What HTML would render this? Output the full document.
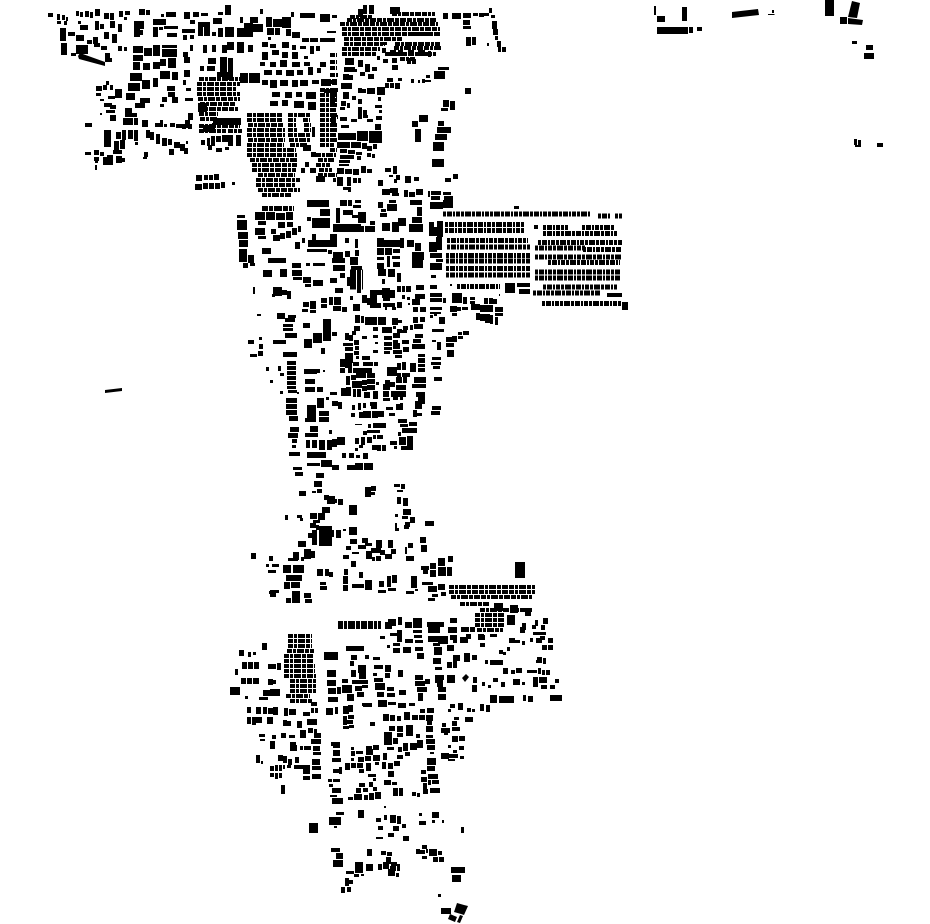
<!DOCTYPE html>
<html><head><meta charset="utf-8"><style>
html,body{margin:0;padding:0;background:#fff;width:930px;height:924px;overflow:hidden}
svg{display:block}
.e{fill:none;stroke:#000;stroke-width:5;stroke-dasharray:3 1 5 1 2 1 4 1 3 1 6 1}
.f{fill:none;stroke:#000;stroke-width:4;stroke-dasharray:5 1 3 1 7 1 4 1 6 1}
.g{fill:none;stroke:#000;stroke-width:5;stroke-dasharray:6 1 4 1 8 1 5 1 3 1}
</style></head><body>
<svg width="930" height="924" viewBox="0 0 930 924" xmlns="http://www.w3.org/2000/svg">
<!-- east rows -->
<path class="e" d="M443 214H590M598 216H610M615 216H622M445 224.500H524M445 230.500H524M543 227.500H568M582 227.500H615M543 233.500H617M447 240.500H528M447 247H530M538 242.500H622M535 248H585M583 249.500H621M446 255.500H530M446 261H530M535 257H622M548 262.500H620M446 268.500H530M446 275H530M535 272H620M535 278H620M457 286.500H500M543 287H617M533 293H600M542 303.500H622"/>
<path d="M505 283h10v10h-10zM517 283h13v4h-13zM519 289h11v5h-11zM607 293h15v4h-15zM622 302h6v8h-6zM514 206h5v3h-5zM534 225h4v4h-4zM450 284h2v2h-2zM499 294h1v2h-1z"/>
<!-- dense northern blocks -->
<path class="f" d="M247 115H283M247 120H283M248 125H283M247 130H285M247 135H285M248 140H285M247 145H284M247 150H296M247 155H297M250 160H297M252 165H297M252 170H296M258 175H295M256 180H300M256 185H296M258 190H300M262 195H292M288 115H310M288 120H296M303 120H310M288 125H296M304 125H311M288 130H297M304 130H311M288 135H310M289 140H310M290 145H308M320 90H337M320 95H337M320 100H337M320 105H337M320 110H335M320 115H337M320 120H336M320 125H337M320 130H337M320 135H336M320 140H337M320 145H334M330 150H337M316 155H336M318 160H334M316 165H330M319 170H332M318 175H337"/>
<path class="f" d="M199 79H240M197 84H240M197 89H236M197 94H240M198 99H240M200 104H235M199 109H238M199 114H218M200 119H218M199 126H240M199 131H226M228 131H242"/>
<path class="f" d="M340 24H438M342 29H440M342 34H430M344 39H402M344 44H385M342 49H380M342 54H376M411 34H440M395 44H440M394 48H441M385 54H436M400 59H415M350 17H372M392 14H435M347 20H436"/>
<path class="f" d="M330 55H337M330 62H337M330 68H337M330 75H338M330 82H337M331 90H338M330 96H337M330 103H336M331 110H337M331 117H338M331 124H337"/>
<path class="f" d="M449 587H535M449 592H535M451 597H532M460 604H490M480 610H532M475 615H505M475 620H505M475 625H505M477 630H503M338 623H381M338 627H381"/>
<path class="f" d="M288 636H312M288 641H312M288 646H312M287 651H314M284 656H314M284 661H314M284 666H315M284 671H315M284 676H316M290 681H316M290 686H316M290 691H316M286 696H310M290 701H312"/>
<path class="g" d="M262 208.500H294M350 272H363M350 277H363M350 282H363M350 287H363"/>
<!-- NW -->
<path d="M48 13h5v4h-5zM57 14h3v6h-3zM62 15h3v5h-3zM66 17h2v4h-2zM57 21h4v3h-4zM64 21h3v4h-3zM76 11h3v5h-3zM80 12h3v5h-3zM85 11h4v6h-4zM90 12h3v6h-3zM95 9h5v7h-5zM104 13h5v6h-5zM110 13h4v7h-4zM119 11h4v6h-4zM125 11h5v4h-5zM124 17h3v3h-3zM60 28h6v13h-6zM68 32h7v4h-7zM61 43h6v12h-6zM71 53h5v3h-5zM76 45h12v9h-12zM80 25h8v5h-8zM78 21h3v3h-3zM95 21h4v9h-4zM100 24h4v5h-4zM110 21h5v7h-5zM118 24h4v8h-4zM76 35h8v6h-8zM87 40h5v4h-5zM93 37h5v7h-5zM104 32h5v7h-5zM112 34h5v9h-5zM94 43h6v4h-6zM101 46h6v4h-6zM118 46h4v5h-4zM124 47h3v4h-3zM107 58h5v4h-5z"/>
<path d="M78 56l2-3 25 9v4l-26-7zM105 53h5v9h-5z"/>
<path d="M106 81h3v4h-3zM96 86h6v5h-6zM96 93h5v3h-5zM103 85h4v5h-4zM110 85h3v5h-3zM115 89h7v9h-7zM108 96h7v3h-7zM104 103h8v4h-8zM100 99h4v2h-4zM110 105h6v4h-6zM106 110h9v3h-9zM110 115h6v6h-6zM100 113h2v2h-2zM85 123h7v4h-7zM104 130h7v17h-7zM116 132h5v7h-5zM122 130h4v10h-4zM128 130h5v9h-5zM134 130h4v11h-4zM114 141h5v9h-5zM120 140h5v9h-5zM113 150h9v4h-9zM135 142h3v3h-3zM107 155h6v5h-6zM94 150h5v5h-5zM85 152h6v3h-6zM103 157h10v8h-10zM116 156h6v7h-6zM122 158h3v4h-3zM94 157h5v4h-5zM100 152h4v4h-4zM95 160h3v3h-3zM95 165h2v5h-2zM146 130h4v8h-4zM150 132h4v8h-4zM156 134h4v10h-4zM162 138h5v8h-5zM168 139h4v6h-4zM174 142h6v6h-6zM180 144h5v7h-5zM184 148h4v6h-4zM186 141h2v3h-2zM169 149h5v6h-5zM144 152h4v5h-4zM143 157h4v2h-4zM155 123h8v4h-8zM164 124h3v3h-3zM170 123h5v4h-5zM176 124h6v4h-6zM182 124h4v5h-4zM188 124h4v5h-4zM212 123h4v5h-4zM201 140h4v5h-4zM207 138h3v8h-3zM211 136h4v10h-4zM216 136h5v6h-5zM222 135h6v7h-6zM228 135h5v11h-5zM236 135h5v11h-5zM208 145h4v5h-4zM216 148h6v4h-6zM225 147h4v3h-4zM196 175h6v6h-6zM204 175h4v5h-4zM209 175h4v5h-4zM214 174h5v6h-5zM195 184h7v6h-7zM203 183h5v6h-5zM209 183h5v6h-5zM215 183h5v6h-5zM221 182h4v6h-4zM232 182h3v3h-3z"/>
<path d="M139 9h6v6h-6zM146 10h4v5h-4zM161 14h3v3h-3zM166 12h10v5h-10zM184 12h6v7h-6zM193 12h6v5h-6zM201 13h7v3h-7zM218 12h5v3h-5zM225 5h6v10h-6zM240 17h3v6h-3zM250 17h8v6h-8zM260 9h3v5h-3zM266 17h6v10h-6zM273 19h9v8h-9zM282 17h9v11h-9zM291 12h3v5h-3zM300 13h15v5h-15zM320 14h10v5h-10zM332 15h5v3h-5zM320 19h10v3h-10zM134 21h10v8h-10zM134 29h6v8h-6zM140 30h3v5h-3zM153 19h13v6h-13zM153 27h5v10h-5zM159 27h4v3h-4zM164 26h14v3h-14zM167 33h10v4h-10zM182 29h13v4h-13zM190 20h5v4h-5zM198 22h12v5h-12zM198 27h5v9h-5zM204 27h6v9h-6zM212 32h4v4h-4zM213 18h9v6h-9zM218 28h5v9h-5zM225 27h9v10h-9zM237 28h7v9h-7zM244 23h9v14h-9zM253 24h6v8h-6zM259 24h4v8h-4zM267 28h7v7h-7zM275 28h5v7h-5zM286 29h5v7h-5zM292 32h8v6h-8zM268 37h3v3h-3zM327 31h9v2h-9zM302 38h7v4h-7zM310 38h8v4h-8zM320 38h15v4h-15zM183 35h4v5h-4zM190 35h4v4h-4z"/>
<path d="M133 46h10v7h-10zM133 55h10v6h-10zM130 73h12v8h-12zM144 48h8v8h-8zM153 45h7v11h-7zM162 45h15v3h-15zM162 49h15v8h-15zM168 58h8v10h-8zM153 62h7v7h-7zM143 63h7v7h-7zM160 59h6v7h-6zM133 62h7v8h-7zM160 71h10v8h-10zM172 72h6v8h-6zM142 80h8v9h-8zM153 78h5v9h-5zM128 83h12v8h-12zM126 93h9v7h-9zM167 86h8v5h-8zM168 92h7v5h-7zM162 97h5v5h-5zM172 97h6v6h-6zM143 98h7v5h-7zM135 103h6v5h-6zM140 98h5v10h-5zM125 108h7v5h-7zM125 113h12v4h-12zM123 118h10v7h-10zM134 118h4v7h-4zM142 120h6v7h-6zM183 52h5v5h-5zM190 45h3v6h-3zM184 57h6v6h-6zM184 70h6v7h-6zM185 98h8v3h-8zM188 113h5v7h-5zM185 120h5v8h-5zM203 45h4v8h-4zM212 45h4v7h-4zM222 45h5v8h-5zM227 42h7v8h-7zM237 42h7v11h-7zM248 45h5v7h-5zM208 58h8v6h-8zM207 66h8v5h-8zM200 66h4v5h-4zM220 57h7v15h-7zM228 58h5v14h-5zM217 72h7v5h-7zM224 72h9v8h-9zM240 73h8v10h-8zM249 73h11v10h-11zM198 103h9v9h-9zM213 118h28v7h-28zM203 125h7v7h-7zM210 125h5v8h-5zM183 80h3v5h-3zM186 88h5v3h-5zM160 104h4v3h-4zM160 120h3v5h-3z"/>
<path d="M262 42h6v5h-6zM270 44h6v4h-6zM282 42h7v6h-7zM292 45h4v5h-4zM300 46h6v3h-6zM310 46h4v8h-4zM316 46h4v5h-4zM262 52h6v8h-6zM272 50h7v5h-7zM282 52h6v6h-6zM292 52h6v7h-6zM304 56h4v3h-4zM260 62h5v4h-5zM270 62h6v5h-6zM280 60h7v7h-7zM292 62h8v5h-8zM304 62h6v4h-6zM320 62h6v5h-6zM264 70h8v5h-8zM276 70h6v5h-6zM286 70h8v6h-8zM297 70h6v5h-6zM308 67h5v8h-5zM317 68h4v5h-4zM262 80h6v5h-6zM270 80h7v8h-7zM280 80h8v6h-8zM292 80h6v7h-6zM300 80h8v6h-8zM312 80h7v4h-7zM272 92h8v5h-8zM285 92h7v6h-7zM296 92h6v5h-6zM306 92h10v7h-10zM270 101h8v5h-8zM282 100h6v6h-6zM294 101h10v7h-10zM308 102h8v8h-8zM312 127h3v10h-3zM321 79h10v7h-10zM332 79h5v6h-5zM324 89h13v4h-13zM301 168h4v5h-4zM310 168h6v5h-6zM316 176h9v6h-9zM333 178h3v4h-3zM303 145h8v6h-8zM311 152h5v5h-5zM305 162h4v5h-4z"/>
<!-- N center -->
<path d="M345 58h9v7h-9zM344 67h11v5h-11zM343 74h6v6h-6zM348 75h5v5h-5zM341 83h11v6h-11zM343 92h6v7h-6zM341 101h5v5h-5zM347 103h3v5h-3zM340 107h5v3h-5zM340 117h7v4h-7zM351 119h6v3h-6zM341 125h8v3h-8zM338 133h18v7h-18zM357 131h11v10h-11zM369 131h13v12h-13zM337 142h13v6h-13zM351 142h6v6h-6zM357 142h4v6h-4zM362 143h5v6h-5zM367 146h5v5h-5zM373 144h4v5h-4zM340 149h7v4h-7zM348 150h7v4h-7zM356 152h6v3h-6zM340 155h14v4h-14zM357 156h4v4h-4zM367 153h4v4h-4zM372 154h3v4h-3zM339 160h11v3h-11zM339 164h10v2h-10zM337 168h7v6h-7zM345 169h7v5h-7zM353 169h6v6h-6zM361 166h5v7h-5zM367 169h5v4h-5zM337 177h6v9h-6zM347 177h4v9h-4zM353 178h4v5h-4zM358 178h3v5h-3zM343 187h5v3h-5zM348 187h3v5h-3z"/>
<path d="M358 107h4v12h-4zM363 110h4v5h-4zM363 115h5v3h-5zM367 119h6v3h-6zM376 116h6v4h-6zM375 124h6v6h-6zM375 105h7v3h-7zM378 97h3v4h-3zM379 110h3v3h-3zM358 88h4v5h-4zM362 89h4v4h-4zM367 88h8v6h-8zM377 87h8v8h-8zM385 83h4v5h-4zM390 83h4v5h-4zM395 83h5v6h-5zM398 78h4v3h-4zM387 78h6v4h-6zM392 65h6v5h-6zM411 79h3v4h-3zM418 80h2v3h-2zM422 79h3v4h-3zM426 75h4v3h-4zM425 80h6v2h-6zM358 60h5v7h-5zM365 64h5v8h-5zM372 67h5v4h-5zM360 72h5v4h-5zM368 74h6v5h-6zM352 96h4v4h-4zM358 99h4v5h-4zM353 69h4v3h-4zM390 7h10v7h-10zM358 9h5v8h-5zM363 5h4v9h-4zM369 5h5v9h-5zM380 42h7v3h-7zM382 48h4v5h-4zM390 50h6v6h-6zM398 50h5v6h-5zM408 50h6v6h-6zM418 50h7v6h-7zM428 51h3v6h-3zM412 59h4v5h-4zM407 58h4v6h-4zM392 58h5v5h-5zM410 65h0v0zM377 56h3v4h-3zM383 59h5v4h-5z"/>
<path d="M443 13h5v6h-5zM452 13h9v6h-9zM463 13h8v5h-8zM463 20h7v5h-7zM463 26h8v3h-8zM473 13h5v3h-5zM479 13h5v4h-5zM484 13h5v3h-5zM489 8h3v5h-3zM491 15h4v3h-4zM492 21h5v8h-5zM493 29h5v6h-5zM495 36h3v4h-3zM497 41h4v6h-4zM498 47h3v5h-3zM502 47h4v5h-4zM487 43h2v3h-2zM466 37h5v9h-5zM472 37h4v8h-4zM443 100h6v7h-6zM450 101h5v9h-5zM441 108h7v3h-7zM465 88h6v6h-6zM419 115h9v7h-9zM412 121h6v6h-6zM438 121h6v5h-6zM437 127h14v6h-14zM435 134h12v6h-12zM433 142h11v9h-11zM415 129h6v13h-6zM432 159h12v8h-12zM438 67h11v3h-11zM434 71h11v8h-11zM393 166h4v8h-4zM389 175h4v2h-4zM394 179h3v4h-3zM445 178h6v4h-6zM453 174h5v5h-5zM382 189h8v6h-8zM390 188h8v5h-8zM392 193h7v3h-7zM404 190h4v7h-4zM409 192h6v5h-6zM416 189h7v6h-7zM428 191h2v6h-2zM431 191h10v4h-10zM443 192h8v3h-8zM431 196h9v4h-9zM444 196h9v4h-9zM378 180h5v6h-5zM396 175h4v5h-4zM405 176h6v7h-6zM414 177h5v4h-5zM385 168h6v4h-6z"/>
<!-- middle -->
<path d="M237 215h8v3h-8zM237 220h10v10h-10zM238 232h10v7h-10zM239 240h9v7h-9zM239 249h8v13h-8zM248 255h6v8h-6zM243 263h5v5h-5zM250 263h5v3h-5zM255 212h10v8h-10zM266 212h9v8h-9zM276 213h9v7h-9zM286 212h7v8h-7zM258 221h8v4h-8zM278 222h7v6h-7zM287 222h6v5h-6zM255 228h10v7h-10zM258 236h8v3h-8zM271 229h5v5h-5zM273 235h7v6h-7zM280 233h5v6h-5zM286 231h5v7h-5zM292 228h5v7h-5zM298 226h3v6h-3zM262 248h9v6h-9zM295 242h5v7h-5zM302 238h3v5h-3zM307 217h4v4h-4zM312 218h18v10h-18zM320 209h10v7h-10zM307 200h22v7h-22zM333 224h28v8h-28zM336 208h4v7h-4zM343 210h10v5h-10zM352 215h6v3h-6zM358 212h8v6h-8zM358 218h8v5h-8zM340 200h7v6h-7zM348 200h4v6h-4zM353 205h8v3h-8zM355 200h6v3h-6zM336 215h4v8h-4zM370 221h5v4h-5zM365 226h10v6h-10zM360 226h4v6h-4zM382 223h8v8h-8zM392 222h7v10h-7zM398 218h8v8h-8zM409 224h14v8h-14zM412 217h10v6h-10zM417 207h5v9h-5zM410 200h12v5h-12zM430 202h13v7h-13zM443 200h10v8h-10zM378 202h5v6h-5zM387 204h10v7h-10zM389 200h7v3h-7zM380 213h7v4h-7zM381 209h5v3h-5z"/>
<path d="M429 222h5v5h-5zM429 227h8v9h-8zM437 221h6v16h-6zM429 242h8v10h-8zM436 237h6v13h-6zM436 253h6v5h-6zM430 253h7v5h-7zM436 259h7v3h-7zM430 263h7v7h-7zM437 263h5v7h-5zM431 275h5v3h-5zM377 238h7v9h-7zM384 240h9v7h-9zM393 240h7v7h-7zM400 238h4v10h-4zM407 240h7v7h-7zM415 243h6v8h-6zM377 248h7v7h-7zM385 248h7v7h-7zM393 249h7v4h-7zM377 257h7v3h-7zM387 256h3v11h-3zM392 256h8v3h-8zM412 252h12v8h-12zM412 260h11v8h-11zM393 262h7v5h-7zM377 263h7v6h-7zM378 269h8v7h-8zM388 269h7v8h-7zM397 273h4v9h-4zM382 279h3v5h-3zM355 239h3v9h-3zM345 238h4v5h-4zM355 250h4v6h-4zM333 252h10v6h-10zM345 251h5v6h-5zM332 258h13v5h-13zM350 257h8v8h-8zM351 266h11v4h-11zM333 265h12v6h-12zM347 277h3v9h-3zM340 273h5v5h-5zM330 278h7v5h-7zM308 240h29v7h-29zM312 234h4v6h-4zM330 234h7v6h-7zM307 249h20v3h-20zM328 250h4v4h-4zM306 263h4v3h-4zM313 263h12v3h-12zM292 263h9v5h-9zM292 270h10v6h-10zM293 277h9v3h-9zM303 277h8v6h-8zM305 284h6v3h-6zM313 280h5v6h-5zM318 280h5v6h-5zM268 258h18v5h-18zM263 270h9v7h-9zM280 269h7v8h-7zM253 287h2v7h-2zM273 287h9v9h-9zM282 290h5v5h-5zM287 291h4v8h-4zM272 294h3v3h-3zM335 288h8v5h-8zM357 288h4v5h-4zM350 296h3v4h-3z"/>
<path d="M370 290h12v5h-12zM382 288h8v10h-8zM390 290h5v8h-5zM397 286h4v6h-4zM402 286h3v6h-3zM406 286h5v6h-5zM416 285h8v5h-8zM415 294h10v5h-10zM430 285h7v4h-7zM430 293h7v4h-7zM437 293h5v4h-5zM430 298h7v4h-7zM437 298h5v4h-5zM443 298h3v5h-3zM452 293h5v10h-5zM457 293h5v10h-5zM463 297h4v7h-4zM470 297h5v3h-5zM470 301h5v3h-5zM484 298h4v6h-4zM489 298h4v6h-4zM493 299h4v5h-4zM450 306h7v6h-7zM457 307h4v4h-4zM462 307h6v3h-6zM471 304h9v6h-9zM480 305h13v7h-13zM495 307h8v5h-8zM495 313h8v3h-8zM476 313h4v7h-4zM480 314h5v7h-5zM485 314h5v9h-5zM490 315h3v9h-3zM495 317h3v8h-3zM452 313h5v3h-5zM362 295h5v8h-5zM367 298h3v7h-3zM370 295h7v13h-7zM377 303h4v5h-4zM383 298h7v3h-7zM383 303h12v4h-12zM385 307h2v3h-2zM392 307h4v3h-4zM397 302h5v6h-5zM402 295h3v4h-3zM407 297h3v3h-3zM408 303h2v2h-2zM412 299h8v6h-8zM413 307h5v5h-5zM420 307h6v5h-6zM430 307h12v3h-12zM430 312h11v2h-11zM430 315h3v3h-3zM434 313h3v3h-3zM439 317h6v7h-6zM303 302h6v5h-6zM310 301h6v8h-6zM321 298h6v5h-6zM321 304h6v4h-6zM329 297h4v8h-4zM334 297h7v8h-7zM333 306h8v5h-8zM342 307h5v5h-5zM353 304h7v7h-7zM302 309h6v3h-6zM310 310h6v3h-6zM257 314h4v2h-4zM277 313h8v6h-8zM288 315h8v3h-8zM285 318h10v4h-10zM283 324h10v3h-10zM283 328h10v3h-10zM285 333h12v5h-12zM303 323h7v5h-7zM323 319h8v22h-8zM313 333h9v10h-9zM304 339h8v9h-8zM332 332h5v4h-5zM321 348h4v6h-4zM273 340h13v4h-13zM283 352h14v5h-14zM248 340h6v4h-6zM259 337h3v3h-3zM259 344h4v5h-4zM250 354h7v3h-7zM258 351h5v5h-5zM266 367h3v4h-3zM278 366h3v5h-3zM280 373h4v3h-4zM270 380h3v3h-3zM280 391h3v3h-3zM297 392h2v2h-2z"/>
<path d="M287 361h9v4h-9zM287 366h9v4h-9zM287 371h9v4h-9zM287 376h9v4h-9zM287 381h9v4h-9zM287 386h9v3h-9zM288 390h9v3h-9zM286 398h11v5h-11zM286 404h11v5h-11zM286 410h11v5h-11zM289 416h9v5h-9zM304 369h13v5h-13zM317 369h3v4h-3zM323 370h2v2h-2zM305 379h10v5h-10zM305 387h10v5h-10zM317 387h6v5h-6zM330 392h7v3h-7zM317 398h7v10h-7zM326 397h3v3h-3zM332 401h6v5h-6zM338 402h4v7h-4zM307 405h9v7h-9zM307 412h9v6h-9zM305 418h11v4h-11zM319 411h10v5h-10zM319 417h10v5h-10zM290 427h9v5h-9zM310 426h8v6h-8zM305 433h13v4h-13zM288 433h10v5h-10zM329 430h3v4h-3zM292 439h5v4h-5zM292 445h4v3h-4zM306 440h4v8h-4zM312 440h5v8h-5zM319 440h6v10h-6zM327 440h5v10h-5zM332 439h5v8h-5zM337 437h8v8h-8zM289 452h11v4h-11zM307 452h19v6h-19zM321 460h11v7h-11zM307 463h13v3h-13zM293 467h9v3h-9zM332 465h7v5h-7zM347 465h8v5h-8zM355 463h8v7h-8zM364 463h9v7h-9zM342 453h4v5h-4zM349 453h5v5h-5zM356 455h4v3h-4zM363 453h5v6h-5zM355 448h3v3h-3zM355 438h4v6h-4zM363 431h4v4h-4zM361 437h4v8h-4zM367 437h5v6h-5zM373 435h3v4h-3zM377 435h6v4h-6zM359 445h4v3h-4zM372 445h5v5h-5zM377 445h4v6h-4zM382 445h4v6h-4zM390 441h7v4h-7zM394 446h3v3h-3zM399 437h7v8h-7zM407 436h6v14h-6zM401 446h6v4h-6zM402 428h15v5h-15zM398 432h3v4h-3zM398 419h9v4h-9zM409 422h8v4h-8zM400 424h8v3h-8zM373 423h13v5h-13zM368 424h3v4h-3zM355 424h7v1h-7zM367 430h13v3h-13z"/>
<path d="M355 315h5v8h-5zM361 316h3v7h-3zM365 317h4v8h-4zM369 317h4v8h-4zM373 317h4v8h-4zM378 317h4v8h-4zM382 317h4v8h-4zM392 318h6v7h-6zM398 320h4v3h-4zM413 317h5v6h-5zM420 317h5v5h-5zM354 326h6v5h-6zM352 331h4v4h-4zM345 333h4v7h-4zM349 335h4v6h-4zM373 327h5v4h-5zM382 327h10v6h-10zM393 326h3v3h-3zM397 329h5v4h-5zM403 326h5v4h-5zM410 325h3v5h-3zM414 324h9v5h-9zM393 333h7v5h-7zM402 330h5v3h-5zM362 336h5v3h-5zM373 335h5v3h-5zM384 336h8v4h-8zM415 334h8v4h-8zM413 339h8v4h-8zM343 343h10v3h-10zM345 347h8v4h-8zM345 353h8v4h-8zM354 340h5v5h-5zM355 346h4v4h-4zM354 351h5v4h-5zM375 342h3v2h-3zM384 342h8v4h-8zM384 347h8v3h-8zM384 351h6v3h-6zM393 343h7v6h-7zM393 340h5v3h-5zM402 340h7v4h-7zM412 344h13v5h-13zM393 350h9v4h-9zM403 347h6v5h-6zM373 350h5v3h-5zM395 355h7v3h-7zM345 357h8v6h-8zM356 356h3v3h-3zM362 356h8v4h-8zM418 354h7v3h-7zM340 359h5v8h-5zM345 363h7v5h-7zM353 362h6v4h-6zM363 362h10v4h-10zM374 362h4v4h-4zM340 368h5v5h-5zM348 368h4v5h-4zM353 368h9v5h-9zM362 368h10v5h-10zM387 367h10v5h-10zM397 363h4v7h-4zM402 362h4v8h-4zM410 363h6v9h-6zM418 358h7v5h-7zM418 364h7v3h-7zM418 368h7v4h-7z"/>
<path d="M387 372h10v4h-10zM397 373h4v4h-4zM402 373h8v4h-8zM346 376h4v9h-4zM351 375h5v5h-5zM356 373h10v5h-10zM367 373h8v5h-8zM352 381h5v7h-5zM357 381h5v7h-5zM362 380h5v5h-5zM367 379h8v5h-8zM376 382h3v3h-3zM385 380h5v5h-5zM390 382h5v5h-5zM396 377h6v6h-6zM403 377h4v6h-4zM414 377h12v6h-12zM414 384h12v4h-12zM362 386h5v5h-5zM367 385h8v5h-8zM412 384h3v4h-3zM341 388h5v8h-5zM346 387h5v9h-5zM353 389h3v8h-3zM357 389h4v8h-4zM364 392h6v6h-6zM373 391h5v8h-5zM383 384h7v6h-7zM383 391h6v6h-6zM391 391h5v6h-5zM396 385h10v5h-10zM396 391h10v6h-10zM393 397h5v3h-5zM400 397h3v3h-3zM383 398h7v3h-7zM416 392h9v5h-9zM418 397h7v7h-7zM415 401h7v8h-7zM413 410h4v7h-4zM352 405h3v5h-3zM358 403h3v7h-3zM363 403h3v5h-3zM370 402h7v4h-7zM371 406h6v3h-6zM386 407h7v3h-7zM396 404h4v6h-4zM400 403h3v7h-3zM351 413h4v4h-4zM359 412h4v6h-4zM363 411h4v7h-4zM367 411h4v7h-4zM372 411h6v7h-6zM378 411h6v6h-6zM389 413h6v3h-6zM413 413h9v3h-9zM432 406h9v4h-9zM431 411h9v4h-9zM432 340h4v2h-4zM437 342h4v8h-4zM432 329h12v3h-12zM446 337h11v5h-11zM446 343h8v4h-8zM447 350h7v4h-7zM447 354h7v3h-7zM452 336h5v6h-5zM458 332h4v3h-4zM458 336h5v3h-5zM463 331h6v4h-6zM432 357h9v3h-9zM431 362h10v3h-10zM433 366h7v3h-7zM434 377h8v4h-8z"/>
<!-- s-middle -->
<path d="M295 472h8v4h-8zM316 473h8v5h-8zM314 481h8v6h-8zM317 489h5v4h-5zM312 491h4v2h-4zM299 491h7v5h-7zM324 495h5v5h-5zM338 499h5v6h-5zM334 499h3v4h-3zM327 496h8v8h-8zM365 487h6v10h-6zM371 486h5v5h-5zM370 492h5v3h-5zM394 484h6v3h-6zM401 484h4v5h-4zM397 490h6v2h-6zM397 497h4v7h-4zM403 498h5v8h-5zM403 509h8v6h-8zM402 516h6v3h-6zM410 517h5v6h-5zM405 522h5v5h-5zM395 514h3v3h-3zM395 523h2v5h-2zM404 525h5v4h-5zM395 528h4v3h-4zM425 521h9v5h-9zM285 515h3v5h-3zM297 515h5v3h-5zM300 518h3v3h-3zM349 505h8v10h-8zM322 507h8v6h-8zM310 513h7v6h-7zM313 520h7v3h-7zM310 523h6v5h-6zM318 513h7v7h-7zM319 526h13v20h-13zM316 525h3v5h-3zM331 530h3v7h-3zM336 530h5v8h-5zM312 530h5v15h-5zM308 533h5v5h-5zM349 527h8v8h-8zM343 529h3v2h-3zM365 523h7v0zM374 528h0v0zM362 538h6v5h-6zM365 543h7v3h-7zM358 545h8v4h-8zM376 540h6v8h-6zM388 540h5v8h-5zM391 549h5v5h-5zM380 550h5v5h-5zM385 554h7v5h-7zM420 537h6v6h-6zM421 545h6v7h-6zM408 543h5v5h-5zM405 547h2v7h-2zM406 556h8v5h-8zM346 546h5v4h-5zM350 539h7v5h-7zM352 552h7v2h-7zM371 548h4v5h-4zM372 557h3v4h-3zM343 555h6v4h-6zM351 561h5v6h-5zM366 551h6v8h-6zM375 548h6v5h-6zM376 556h5v5h-5zM251 553h5v6h-5zM269 556h4v5h-4zM266 564h3v3h-3zM272 564h7v3h-7zM268 570h8v3h-8zM293 552h6v8h-6zM298 541h8v6h-8zM304 549h7v10h-7zM311 551h4v7h-4zM288 558h10v3h-10zM301 557h3v4h-3z"/>
<!-- s block from zoom -->
<path d="M283 565h8v8h-8zM293 565h11v8h-11zM286 575h8v6h-8zM294 575h8v6h-8zM284 582h6v7h-6zM291 582h9v6h-9zM270 590h6v7h-6zM269 591h3v3h-3zM292 591h8v8h-8zM286 598h5v5h-5zM292 598h8v5h-8zM304 593h7v5h-7zM305 599h7v4h-7zM276 590h3v3h-3zM317 569h6v7h-6zM325 569h4v7h-4zM329 572h4v5h-4zM320 582h6v3h-6zM320 586h7v4h-7zM344 569h4v6h-4zM343 576h5v8h-5zM343 585h5v6h-5zM359 572h4v6h-4zM352 584h12v4h-12zM365 580h7v10h-7zM379 581h5v6h-5zM387 576h4v11h-4zM392 575h5v8h-5zM388 588h8v3h-8zM378 590h8v3h-8zM406 591h8v3h-8zM411 576h6v12h-6zM415 589h3v2h-3zM422 582h11v3h-11zM430 563h6v6h-6zM421 566h8v4h-8zM423 570h5v4h-5zM430 570h6v7h-6zM438 558h7v8h-7zM438 567h8v9h-8zM447 567h5v9h-5zM448 556h5v6h-5zM515 562h10v16h-10zM428 586h9v6h-9zM438 584h7v6h-7zM432 594h6v3h-6zM428 598h7v3h-7zM441 592h5v4h-5zM494 603h9v8h-9zM510 605h8v8h-8zM525 608h6v8h-6zM507 615h8v10h-8zM522 623h4v7h-4zM535 620h3v6h-3zM543 618h5v6h-5zM532 625h4v4h-4zM541 625h4v5h-4zM520 627h5v6h-5zM533 632h13v3h-13zM540 636h5v4h-5zM548 638h5v5h-5zM548 645h5v5h-5zM536 638h6v5h-6zM530 638h3v4h-3zM542 645h5v5h-5zM509 638h6v5h-6zM522 641h3v4h-3zM499 650h4v4h-4zM503 652h3v3h-3zM507 647h3v4h-3zM485 660h3v4h-3zM490 660h13v5h-13zM503 668h5v6h-5zM511 670h4v4h-4zM516 668h6v5h-6zM527 670h10v3h-10zM538 668h3v6h-3zM542 670h3v5h-3zM546 670h4v5h-4zM537 657h5v3h-5zM536 660h6v3h-6zM543 658h3v6h-3zM490 695h7v8h-7zM499 696h15v7h-15zM523 695h3v6h-3zM528 696h5v6h-5zM550 695h12v6h-12zM473 677h4v6h-4zM472 685h5v7h-5zM482 682h3v4h-3zM488 685h3v3h-3zM493 678h5v4h-5zM501 682h4v5h-4zM513 679h7v6h-7zM522 682h3v3h-3zM533 677h5v10h-5zM539 677h8v6h-8zM550 685h5v4h-5zM555 679h4v4h-4zM541 685h6v4h-6zM447 675h8v8h-8zM435 675h8v8h-8zM515 640h5v3h-5zM478 634h6v6h-6zM490 634h7v3h-7zM466 634h5v5h-5z"/>
<path d="M462 678l4-4 3 3-4 5zM324 652h14v8h-14zM327 670h9v7h-9zM327 680h9v6h-9zM328 688h8v6h-8zM328 697h10v5h-10zM337 687h4v7h-4zM342 685h10v8h-10zM347 694h7v7h-7zM362 703h10v3h-10zM346 646h18v5h-18zM351 655h6v5h-6zM350 661h4v5h-4zM358 665h8v8h-8zM351 670h5v7h-5zM359 673h7v6h-7zM342 679h6v4h-6zM352 680h16v4h-16zM355 686h7v5h-7zM362 685h6v3h-6zM357 692h7v5h-7zM373 657h7v3h-7zM374 665h9v4h-9zM373 673h4v3h-4zM374 678h9v4h-9zM375 683h10v7h-10zM377 692h7v5h-7zM387 687h7v4h-7zM387 693h8v4h-8zM385 673h5v5h-5zM385 665h6v7h-6zM398 670h5v7h-5zM399 690h7v5h-7zM415 675h8v5h-8zM415 681h10v5h-10zM417 687h10v5h-10zM418 693h5v8h-5zM425 679h5v5h-5zM437 675h7v5h-7zM437 681h6v6h-6zM438 687h8v5h-8zM438 694h8v6h-8zM385 622h7v7h-7zM388 619h8v7h-8zM398 617h4v8h-4zM405 622h7v6h-7zM413 618h9v10h-9zM413 630h9v3h-9zM414 635h8v3h-8zM405 639h8v4h-8zM415 640h8v3h-8zM397 630h5v12h-5zM393 643h7v3h-7zM403 647h8v6h-8zM393 648h7v5h-7zM415 647h8v4h-8zM417 653h7v6h-7zM427 622h17v5h-17zM428 627h12v6h-12zM428 636h10v6h-10zM438 636h10v8h-10zM433 643h7v3h-7zM434 647h8v8h-8zM433 658h8v6h-8zM435 667h7v3h-7zM447 645h7v6h-7zM450 618h7v5h-7zM448 627h9v6h-9zM450 635h7v5h-7zM453 640h4v3h-4zM460 637h8v6h-8zM461 627h8v5h-8zM470 627h5v5h-5zM453 655h7v6h-7zM447 662h5v6h-5zM453 661h4v7h-4zM464 653h6v9h-6zM472 655h5v5h-5zM482 635h3v5h-3zM480 643h5v4h-5zM387 645h3v3h-3zM365 655h4v4h-4zM380 636h5v3h-5zM390 633h8v3h-8z"/>
<path d="M230 687h10v8h-10zM262 643h5v7h-5zM239 650h5v6h-5zM248 652h3v5h-3zM253 652h3v3h-3zM242 662h5v7h-5zM248 662h5v7h-5zM254 662h5v7h-5zM268 664h8v5h-8zM277 663h4v7h-4zM235 669h3v6h-3zM241 678h5v6h-5zM247 678h5v6h-5zM253 678h6v6h-6zM268 679h5v6h-5zM245 696h3v3h-3zM263 690h7v6h-7zM270 689h10v7h-10zM259 697h9v3h-9zM272 680h4v4h-4z"/>
<path d="M247 707h4v6h-4zM256 707h5v7h-5zM263 707h4v7h-4zM268 708h5v6h-5zM273 707h5v8h-5zM284 708h4v8h-4zM289 709h7v6h-7zM303 712h7v4h-7zM311 702h3v4h-3zM314 702h3v4h-3zM311 708h3v5h-3zM315 708h3v5h-3zM326 708h7v7h-7zM335 707h3v7h-3zM343 706h6v8h-6zM348 705h5v7h-5zM363 703h9v4h-9zM378 700h9v7h-9zM388 702h8v3h-8zM398 703h8v5h-8zM409 703h6v3h-6zM247 717h4v7h-4zM252 717h4v8h-4zM256 717h6v6h-6zM267 717h6v7h-6zM283 720h4v6h-4zM287 721h4v5h-4zM297 721h5v7h-5zM307 719h10v6h-10zM343 716h4v9h-4zM347 720h6v4h-6zM348 715h6v4h-6zM343 726h6v3h-6zM349 725h5v3h-5zM370 722h5v4h-5zM383 714h6v7h-6zM390 715h5v6h-5zM397 716h4v5h-4zM404 712h6v8h-6zM412 715h6v5h-6zM419 715h6v5h-6zM426 715h7v6h-7zM420 709h5v4h-5zM427 708h7v5h-7zM427 721h5v4h-5zM426 726h7v6h-7zM426 735h7v3h-7zM426 739h9v5h-9zM427 745h8v5h-8zM430 752h4v2h-4zM427 758h9v7h-9zM427 766h8v5h-8zM421 770h5v4h-5zM421 777h6v5h-6zM428 774h10v5h-10zM432 780h7v4h-7zM428 780h3v5h-3zM423 783h4v6h-4zM430 788h10v5h-10zM423 789h5v5h-5zM389 726h6v5h-6zM397 726h6v6h-6zM406 725h7v11h-7zM397 733h6v4h-6zM384 732h8v7h-8zM384 739h8v6h-8zM393 738h5v6h-5zM416 734h4v4h-4zM417 740h6v8h-6zM410 743h7v7h-7zM403 743h5v8h-5zM398 747h4v5h-4zM387 747h7v3h-7zM397 755h6v4h-6zM405 752h5v4h-5zM366 746h6v3h-6zM366 749h7v6h-7zM373 745h6v5h-6zM373 755h7v6h-7zM365 756h6v5h-6zM358 757h6v5h-6zM357 763h6v5h-6zM366 763h5v8h-5zM359 769h5v4h-5zM375 762h4v3h-4zM383 753h4v7h-4zM382 762h4v7h-4zM388 763h5v6h-5zM388 771h6v6h-6zM394 761h6v5h-6zM351 758h3v3h-3zM351 751h4v5h-4zM351 747h3v3h-3zM356 751h7v3h-7z"/>
<path d="M333 742h7v6h-7zM331 742h3v4h-3zM333 750h7v6h-7zM332 758h9v4h-9zM333 769h6v4h-6zM339 767h3v7h-3zM345 763h5v7h-5zM351 763h5v5h-5zM333 779h7v3h-7zM328 779h4v3h-4zM329 784h4v3h-4zM332 788h9v5h-9zM330 795h7v2h-7zM332 798h11v6h-11zM348 797h5v3h-5zM354 794h8v6h-8zM364 795h4v5h-4zM369 793h5v7h-5zM375 792h6v7h-6zM356 788h5v5h-5zM363 788h5v4h-5zM359 783h6v4h-6zM368 774h8v3h-8zM369 782h4v5h-4zM373 778h3v3h-3zM373 787h4v4h-4zM384 780h7v5h-7zM392 782h5v3h-5zM393 788h5v8h-5zM399 788h4v8h-4zM412 792h4v4h-4zM417 793h3v4h-3zM442 723h4v4h-4zM441 728h9v5h-9zM444 733h4v2h-4zM452 721h5v5h-5zM452 727h8v4h-8zM454 717h5v3h-5zM465 717h8v5h-8zM467 708h4v4h-4zM472 709h3v3h-3zM458 703h5v7h-5zM450 704h5v4h-5zM448 709h3v3h-3zM480 704h4v7h-4zM486 705h4v7h-4zM452 736h6v6h-6zM459 736h6v5h-6zM448 745h3v3h-3zM459 746h5v4h-5zM453 750h4v3h-4zM441 753h8v6h-8zM449 754h9v4h-9zM460 756h4v3h-4zM448 759h7v2h-7z"/>
<path d="M259 734h6v3h-6zM260 739h5v2h-5zM270 741h5v8h-5zM272 735h4v4h-4zM281 733h5v5h-5zM289 735h6v3h-6zM290 742h6v3h-6zM290 745h7v6h-7zM300 746h3v4h-3zM304 746h7v4h-7zM313 746h7v5h-7zM311 739h10v5h-10zM314 733h7v5h-7zM300 730h6v8h-6zM308 728h5v5h-5zM314 729h3v5h-3zM313 752h8v3h-8zM312 759h8v6h-8zM312 766h9v4h-9zM312 774h9v5h-9zM303 776h7v4h-7zM303 769h7v5h-7zM302 765h8v4h-8zM294 765h8v4h-8zM295 757h4v6h-4zM278 755h5v6h-5zM283 756h4v7h-4zM288 759h4v6h-4zM256 755h4v8h-4zM261 761h2v3h-2zM270 766h4v5h-4zM275 765h3v6h-3zM279 765h3v6h-3zM283 765h2v4h-2zM287 765h4v3h-4zM270 773h4v4h-4zM275 773h3v6h-3zM279 773h3v5h-3zM281 785h4v9h-4z"/>
<path d="M336 812h8v3h-8zM329 817h12v8h-12zM334 826h3v2h-3zM358 810h6v8h-6zM309 823h9v10h-9zM376 818h5v4h-5zM384 815h3v5h-3zM390 815h6v8h-6zM397 816h4v8h-4zM402 824h4v4h-4zM378 826h5v4h-5zM393 826h6v5h-6zM376 837h7v2h-7zM388 833h6v4h-6zM403 836h6v5h-6zM419 813h3v3h-3zM419 821h7v4h-7zM432 812h7v6h-7zM432 820h3v3h-3zM442 820h2v3h-2zM461 827h3v6h-3zM384 806h2v2h-2zM331 848h9v4h-9zM336 853h7v6h-7zM333 860h10v7h-10zM367 849h5v7h-5zM355 862h8v11h-8zM366 864h7v7h-7zM346 871h8v3h-8zM354 874h5v3h-5zM361 874h3v2h-3zM381 851h5v4h-5zM387 852h5v4h-5zM386 857h5v7h-5zM378 864h4v6h-4zM383 862h6v7h-6zM391 862h6v4h-6zM390 866h6v5h-6zM397 864h3v7h-3zM388 869h7v7h-7zM396 873h3v4h-3zM345 878h4v8h-4zM349 880h4v4h-4zM341 887h4v6h-4zM347 887h4v5h-4zM422 845h5v4h-5zM416 849h4v5h-4zM420 850h5v4h-5zM426 849h2v4h-2zM429 849h8v7h-8zM438 851h4v4h-4zM433 857h5v5h-5zM439 857h5v5h-5zM422 856h5v3h-5zM451 867h14v6h-14zM452 875h9v7h-9zM438 894h3v3h-3z"/>
<path d="M441 908h10v6h-10zM450 914l7 3-2 5-7-3zM457 903l7 2-3 9-7-2zM464 905l4 1-4 9-3-1zM460 915l3 1-3 7-3-1z"/>
<!-- NE -->
<path d="M654 6h2v9h-2zM657 16h8v6h-8zM682 7h5v14h-5zM657 27h31v7h-31zM689 27h4v6h-4zM697 27h5v4h-5zM732 12l26-3 1 6-27 3zM772 10h2v3h-2zM768 14h7l-1 1h-6zM825 0h9v16h-9zM852 1l8 2-3 15-9-1zM840 17h7v7h-7zM848 18l15 2-1 5-14-1zM852 41h5v3h-5zM866 45h7v5h-7zM864 53h10v6h-10zM854 139h3v6h-3zM858 140h3v5h-3zM855 145h6v2h-6zM877 143h6v4h-6zM105 390l17-2v3l-17 2z"/>
</svg>
</body></html>
